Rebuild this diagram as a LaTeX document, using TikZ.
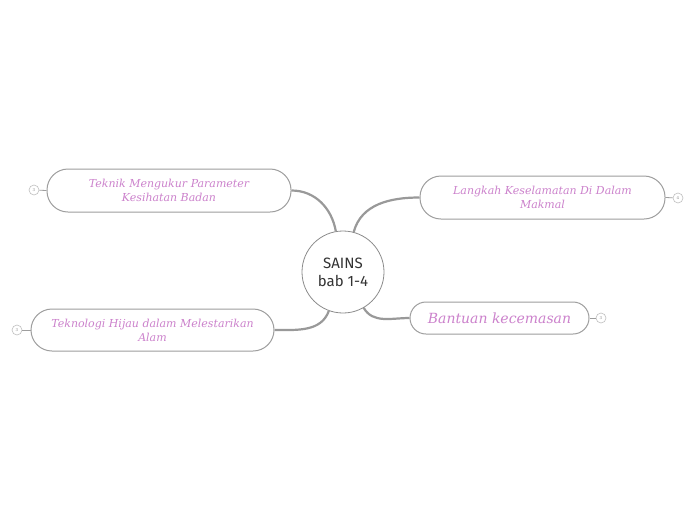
\documentclass[tikz,border=0pt]{standalone}
\usepackage{fontspec}
\setmainfont{DejaVu Serif}
\newfontfamily\centerfont{Fira Sans}
\begin{document}
\begin{tikzpicture}[x=1pt,y=-1pt,
  conn/.style={draw=black!40,line width=2.2pt},
  topic/.style={draw=black!38,line width=1pt,rounded corners=21pt,fill=white,
    font=\itshape\fontsize{11}{14}\selectfont,text=pinktext,align=center,inner sep=0pt},
  num/.style={draw=black!25,line width=0.6pt,circle,minimum size=10pt,inner sep=0pt,
    font=\fontsize{4}{4}\selectfont,text=black!45,fill=white},
  stub/.style={draw=black!38,line width=0.8pt}]
\definecolor{pinktext}{RGB}{204,130,204}
\useasboundingbox (0,0) rectangle (696,520);
\fill[white] (0,0) rectangle (696,520);
\node[circle,draw=black!45,line width=0.8pt,minimum size=82pt,inner sep=0pt,fill=white,
  font=\centerfont\fontsize{15}{18}\selectfont,text=black!80,align=center] (c) at (343,272) {SAINS\\bab 1-4};
\node[topic,minimum width=244pt,minimum height=43pt] (tl) at (169,190.5) {Teknik Mengukur Parameter\\Kesihatan Badan};
\node[topic,minimum width=245pt,minimum height=43pt] (tr) at (542.5,197.5) {Langkah Keselamatan Di Dalam\\Makmal};
\node[topic,minimum width=243pt,minimum height=42pt] (bl) at (152.5,330) {Teknologi Hijau dalam Melestarikan\\Alam};
\node[topic,rounded corners=16pt,minimum width=179pt,minimum height=32pt,font=\itshape\fontsize{14}{17}\selectfont] (br) at (499.5,318) {Bantuan kecemasan};
\draw[conn] (tl.east) to[out=0,in=100] (c.100);
\draw[conn] (tr.west) to[out=180,in=75] (c.75);
\draw[conn] (bl.east) to[out=0,in=-110] (c.-110);
\draw[conn] (br.west) to[out=180,in=-60] (c.-60);
\node[num] (n1) at (34,190) {3};
\node[num] (n2) at (678,198) {4};
\node[num] (n3) at (17,330) {3};
\node[num] (n4) at (601,318) {3};
\draw[stub] (n1) -- (tl.west);
\draw[stub] (n2) -- (tr.east);
\draw[stub] (n3) -- (bl.west);
\draw[stub] (n4) -- (br.east);
\end{tikzpicture}
\end{document}
